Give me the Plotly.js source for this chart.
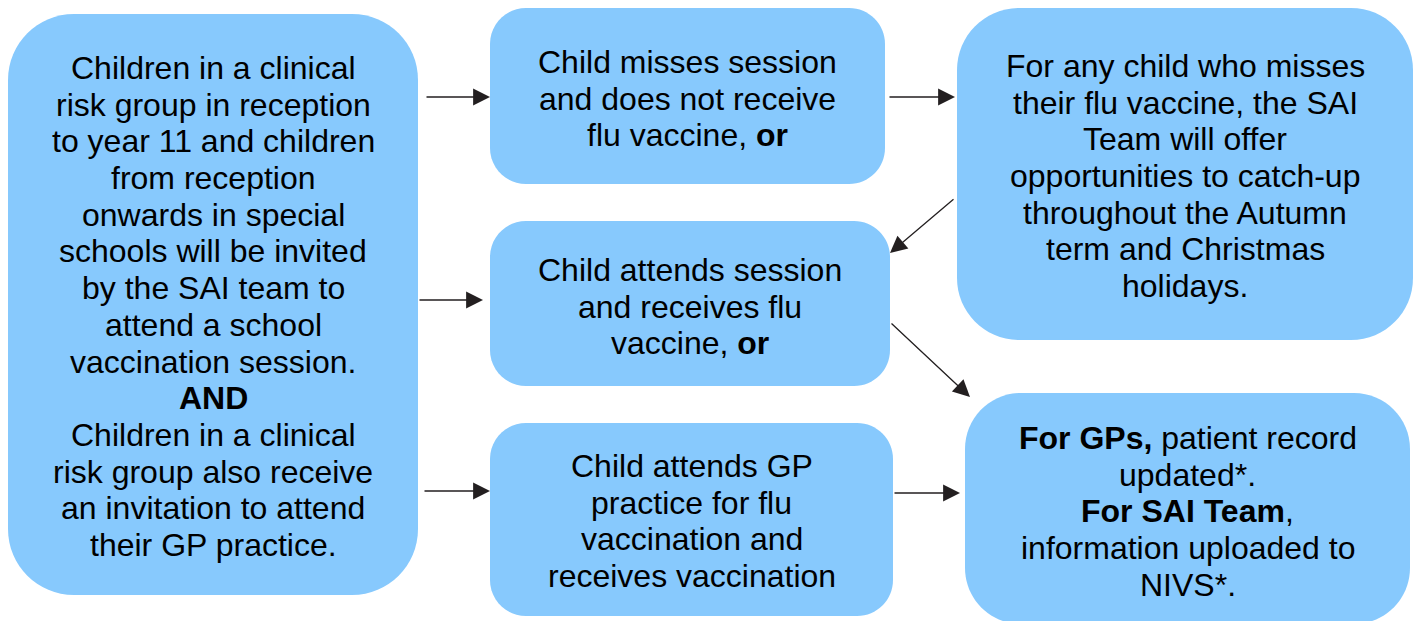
<!DOCTYPE html>
<html>
<head>
<meta charset="utf-8">
<script src="https://cdn.plot.ly/plotly-3.0.1.min.js"></script>
<style>html,body{margin:0;padding:0;background:#fff;}#chart{width:1421px;height:621px;}</style>
</head>
<body>
<div id="chart"></div>
<script>
// Box texts (content), one entry per line
var box1Lines = ["Children in a clinical", "risk group in reception", "to year 11 and children", "from reception",
  "onwards in special", "schools will be invited", "by the SAI team to", "attend a school",
  "vaccination session.", "<b>AND</b>", "Children in a clinical", "risk group also receive",
  "an invitation to attend", "their GP practice."];
var box2Lines = ["Child misses session", "and does not receive", "flu vaccine, <b>or</b>"];
var box3Lines = ["For any child who misses", "their flu vaccine, the SAI", "Team will offer",
  "opportunities to catch-up", "throughout the Autumn", "term and Christmas", "holidays."];
var box4Lines = ["Child attends session", "and receives flu", "vaccine, <b>or</b>"];
var box5Lines = ["Child attends GP", "practice for flu", "vaccination and", "receives vaccination"];
var box6Lines = ["<b>For GPs,</b> patient record", "updated*.", "<b>For SAI Team</b>,",
  "information uploaded to", "NIVS*."];
var boxTexts = [box1Lines, box2Lines, box3Lines, box4Lines, box5Lines, box6Lines];

// Flow links: from box index -> to box index
var linkFrom = [0, 1, 2, 0, 3, 0, 4];
var linkTo   = [1, 2, 3, 3, 5, 4, 5];

// Layout geometry (pixels)
var boxX0 = [8, 490, 957, 490, 490, 965];
var boxY0 = [14, 8, 8, 221, 423, 393];
var boxX1 = [418, 885, 1413, 890, 893, 1410];
var boxY1 = [595, 184, 340, 386, 616, 624];
var boxR  = [66, 36, 62, 36, 36, 56];
var firstBaseline = [79, 73, 77, 281, 477, 449];
var lineStep = 36.7;
var fontSize = 32;
var arrTailX = [425, 888, 955, 418, 890, 423, 893];
var arrTailY = [97, 97, 198, 300, 322, 491, 493];
var arrHeadX = [490, 955, 890, 483, 970, 490, 960];
var arrHeadY = [97, 97, 253, 300, 397, 491, 493];

var fill = "#87C9FD";
var k = 0.5523;
function rrect(x0, y0, x1, y1, r) {
  var c = r * (1 - k);
  return "M" + (x0 + r) + "," + y0 +
    " H" + (x1 - r) +
    " C" + (x1 - c) + "," + y0 + " " + x1 + "," + (y0 + c) + " " + x1 + "," + (y0 + r) +
    " V" + (y1 - r) +
    " C" + x1 + "," + (y1 - c) + " " + (x1 - c) + "," + y1 + " " + (x1 - r) + "," + y1 +
    " H" + (x0 + r) +
    " C" + (x0 + c) + "," + y1 + " " + x0 + "," + (y1 - c) + " " + x0 + "," + (y1 - r) +
    " V" + (y0 + r) +
    " C" + x0 + "," + (y0 + c) + " " + (x0 + c) + "," + y0 + " " + (x0 + r) + "," + y0 + " Z";
}

var shapes = [];
var annotations = [];
var centerOffset = (0.905 - 0.212) / 2 * fontSize;
for (var i = 0; i < boxTexts.length; i++) {
  shapes.push({
    type: "path", xref: "x", yref: "y", layer: "below",
    path: rrect(boxX0[i], boxY0[i], boxX1[i], boxY1[i], boxR[i]),
    fillcolor: fill, line: {width: 0}
  });
  for (var n = 0; n < boxTexts[i].length; n++) {
    annotations.push({
      xref: "x", yref: "y",
      x: (boxX0[i] + boxX1[i]) / 2,
      y: firstBaseline[i] + n * lineStep - centerOffset,
      text: boxTexts[i][n], showarrow: false, align: "center",
      xanchor: "center", yanchor: "middle",
      font: {family: "Liberation Sans, Arial, sans-serif", size: fontSize, color: "#000000"}
    });
  }
}
for (var j = 0; j < linkFrom.length; j++) {
  annotations.push({
    xref: "x", yref: "y", axref: "x", ayref: "y",
    x: arrHeadX[j], y: arrHeadY[j], ax: arrTailX[j], ay: arrTailY[j],
    text: "", showarrow: true, arrowhead: 2, arrowsize: 2.6, arrowwidth: 1.3,
    arrowcolor: "#231F20", standoff: 0, startstandoff: 0
  });
}

var layout = {
  width: 1421, height: 621,
  margin: {l: 0, r: 0, t: 0, b: 0},
  paper_bgcolor: "#ffffff", plot_bgcolor: "#ffffff",
  xaxis: {range: [0, 1421], visible: false, fixedrange: true},
  yaxis: {range: [621, 0], visible: false, fixedrange: true},
  showlegend: false,
  shapes: shapes,
  annotations: annotations
};
Plotly.newPlot("chart", [], layout, {displayModeBar: false, staticPlot: true});
</script>
</body>
</html>
